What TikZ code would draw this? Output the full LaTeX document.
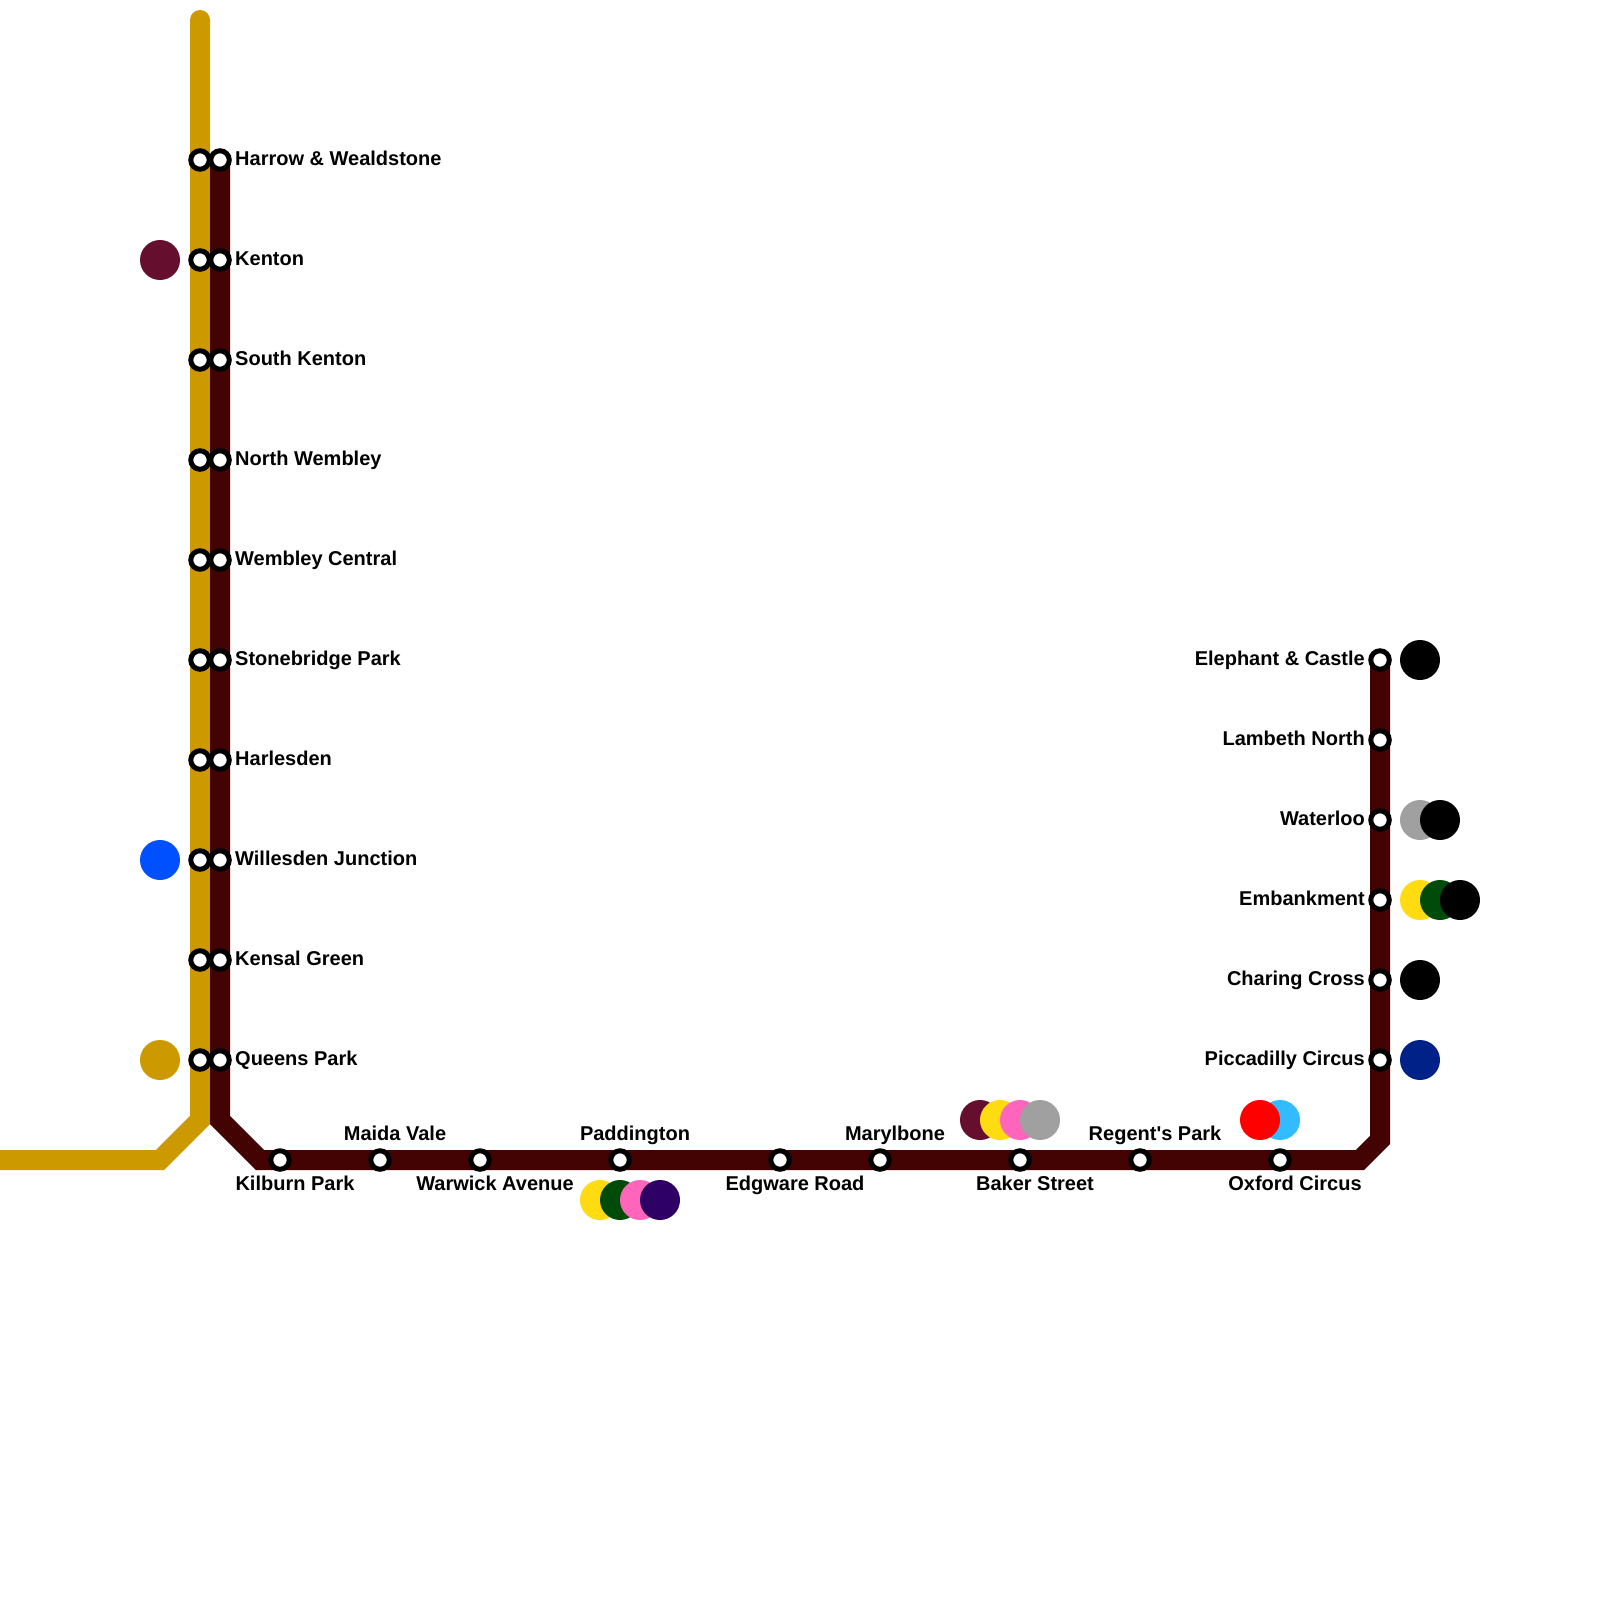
\documentclass[tikz,border=0pt]{standalone}
\usepackage{fontspec}
\setmainfont{Liberation Sans}
\usepackage{xcolor}
\usetikzlibrary{positioning}
\definecolor{bakerloo}{HTML}{430303}
\definecolor{overground}{HTML}{CC9900}
\definecolor{elizabeth}{HTML}{660E2E}
\definecolor{national}{HTML}{0050FF}
\definecolor{piccadilly}{HTML}{002288}
\definecolor{victoria}{HTML}{33BBFF}
\definecolor{circleline}{HTML}{FFDB11}
\definecolor{district}{HTML}{004A0A}
\definecolor{hammersmith}{HTML}{FF66BB}
\definecolor{jubilee}{HTML}{A0A0A0}
\definecolor{crossrail}{HTML}{2E0066}
\begin{document}
\begin{tikzpicture}[x=1pt,y=-1pt]
  \tikzset{stop/.style = {shape=circle,draw=black,fill=white,line width=5pt,minimum size=18.5pt,inner sep=0pt,outer sep=0pt}}
  \tikzset{chg/.style = {shape=circle,minimum size=40pt,inner sep=0pt,outer sep=0pt}}
  \tikzset{stopname/.style = {font=\fontsize{20}{20}\selectfont\bfseries,inner sep=0pt,text height=14pt,text depth=4pt}}
  \tikzset{linegold/.style = {draw=overground,line width=20pt,line join=miter}}
  \tikzset{linebrown/.style = {draw=bakerloo,line width=20pt,line join=miter}}

  \useasboundingbox (0,0) rectangle (1600,1600);

  % line bends
  \coordinate (gtop) at (200,20);
  \coordinate (gbend) at (200,1120);
  \coordinate (gfoot) at (160,1160);
  \coordinate (gleft) at (0,1160);
  \coordinate (btop) at (220,160);
  \coordinate (bbend) at (220,1120);
  \coordinate (bfoot) at (260,1160);
  \coordinate (bcorner) at (1360,1160);
  \coordinate (bup) at (1380,1140);
  \coordinate (bend) at (1380,660);

  \draw[linegold] (gleft) -- (gfoot) -- (gbend) -- (gtop);
  \fill[overground] (gtop) circle (10pt);
  \draw[linebrown] (btop) -- (bbend) -- (bfoot) -- (bcorner) -- (bup) -- (bend);

  % interchange discs
  \foreach \id/\xpos/\ypos/\col in {a/160/260/elizabeth, b/160/860/national, c/160/1060/overground,
    d/600/1200/circleline, e/620/1200/district, f/640/1200/hammersmith, g/660/1200/crossrail,
    h/980/1120/elizabeth, i/1000/1120/circleline, j/1020/1120/hammersmith, k/1040/1120/jubilee,
    l/1280/1120/victoria, m/1260/1120/red,
    n/1420/660/black, o/1420/820/jubilee, p/1440/820/black,
    q/1420/900/circleline, r/1440/900/district, s/1460/900/black,
    t/1420/980/black, u/1420/1060/piccadilly}
    \node[chg,fill=\col] (disc\id) at (\xpos,\ypos) {};

  % left column
  \foreach \id/\ypos/\txt in {HW/160/Harrow \& Wealdstone, KT/260/Kenton, SK/360/South Kenton,
    NW/460/North Wembley, WC/560/Wembley Central, SP/660/Stonebridge Park, HD/760/Harlesden,
    WJ/860/Willesden Junction, KG/960/Kensal Green, QP/1060/Queens Park}{
    \node[stop] (g\id) at (200,\ypos) {};
    \node[stop] (\id) at (220,\ypos) {};
    \node[stopname,anchor=west] (l\id) at ([xshift=15pt,yshift=0pt]\id) {\txt};
  }

  % right column
  \foreach \id/\ypos/\txt in {EC/660/Elephant \& Castle, LN/740/Lambeth North, WL/820/Waterloo,
    EM/900/Embankment, CC/980/Charing Cross, PC/1060/Piccadilly Circus}{
    \node[stop] (\id) at (1380,\ypos) {};
    \node[stopname,anchor=east] (l\id) at ([xshift=-15pt,yshift=0pt]\id) {\txt};
  }

  % bottom row, names above
  \foreach \id/\xpos/\txt in {MV/380/Maida Vale, PD/620/Paddington, MB/880/Marylbone, RP/1140/Regent\textquotesingle s Park}{
    \node[stop] (\id) at (\xpos,1160) {};
    \node[stopname] (l\id) at ([xshift=15pt,yshift=25pt]\id) {\txt};
  }

  % bottom row, names below
  \foreach \id/\xpos/\txt in {KP/280/Kilburn Park, WA/480/Warwick Avenue, ER/780/Edgware Road,
    BS/1020/Baker Street, OC/1280/Oxford Circus}{
    \node[stop] (\id) at (\xpos,1160) {};
    \node[stopname] (l\id) at ([xshift=15pt,yshift=-25pt]\id) {\txt};
  }
\end{tikzpicture}
\end{document}
